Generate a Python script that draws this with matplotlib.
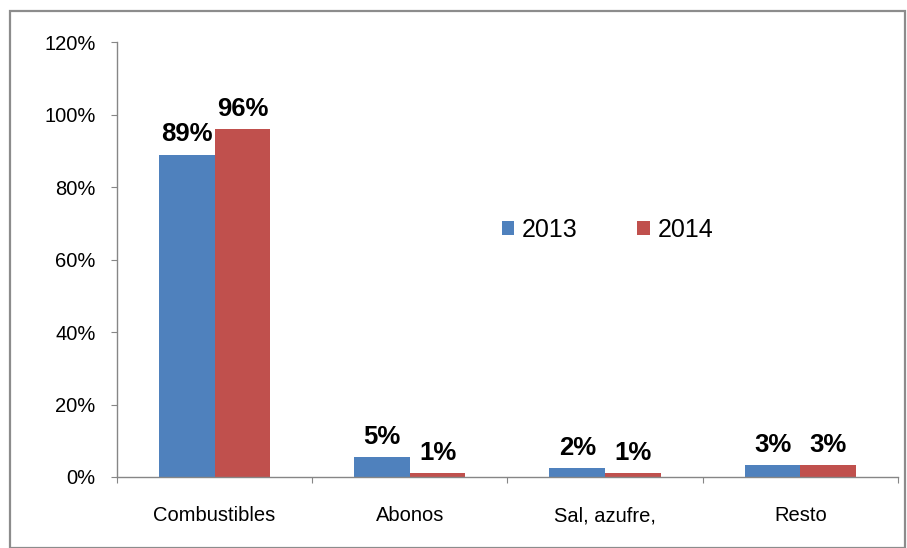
import numpy as np
import matplotlib.pyplot as plt
from matplotlib.patches import Rectangle

categories = ['Combustibles', 'Abonos', 'Sal, azufre,', 'Resto']
years = ['2013', '2014']
values_2013 = [89, 5.5, 2.5, 3.3]
values_2014 = [96, 1.1, 1.1, 3.3]
labels_2013 = ['89%', '5%', '2%', '3%']
labels_2014 = ['96%', '1%', '1%', '3%']
yticks = [0, 20, 40, 60, 80, 100, 120]

plt.rcParams['font.family'] = ['Liberation Sans', 'DejaVu Sans']

fig = plt.figure(figsize=(9.07, 5.48), dpi=100)
ax = fig.add_axes([0.129, 0.1296, 0.861, 0.7934])

# outer chart border
fig.patches.append(Rectangle((10 / 907, 0.0), 895 / 907, 1 - 11 / 548,
                             transform=fig.transFigure, fill=False,
                             edgecolor='#8c8c8c', linewidth=1.6))

x = np.arange(len(categories))
w = 0.285
b1 = ax.bar(x - w / 2, values_2013, w, color='#4F81BD', label=years[0])
b2 = ax.bar(x + w / 2, values_2014, w, color='#C0504D', label=years[1])

for bars, labs in [(b1, labels_2013), (b2, labels_2014)]:
    for bar, lab in zip(bars, labs):
        ax.annotate(lab, (bar.get_x() + bar.get_width() / 2, bar.get_height()),
                    xytext=(0, 6), textcoords='offset points',
                    ha='center', va='bottom', fontsize=18.5, fontweight='bold')

ax.set_xlim(-0.5, len(categories) - 0.5)
ax.set_ylim(0, 120)
ax.set_yticks(yticks)
ax.set_yticklabels([str(t) + '%' for t in yticks])

# category boundaries as major ticks, names as minor ticks
ax.set_xticks(np.arange(-0.5, len(categories), 1.0))
ax.set_xticklabels([])
ax.set_xticks(x, minor=True)
ax.set_xticklabels(categories, minor=True)

ax.tick_params(axis='y', direction='out', length=4.5, color='#868686',
               labelsize=14.5, pad=11)
ax.tick_params(axis='x', which='major', direction='out', length=4.5,
               color='#868686')
ax.tick_params(axis='x', which='minor', length=0, labelsize=14.5, pad=21)

for s in ['top', 'right']:
    ax.spines[s].set_visible(False)
for s in ['left', 'bottom']:
    ax.spines[s].set_color('#868686')
    ax.spines[s].set_linewidth(1.0)

ax.legend(loc='center', bbox_to_anchor=(0.628, 0.569),
          ncol=2, frameon=False, fontsize=18, handlelength=0.5,
          handleheight=0.5, handletextpad=0.3, columnspacing=2.4)

fig.savefig('out.png', dpi=100)
